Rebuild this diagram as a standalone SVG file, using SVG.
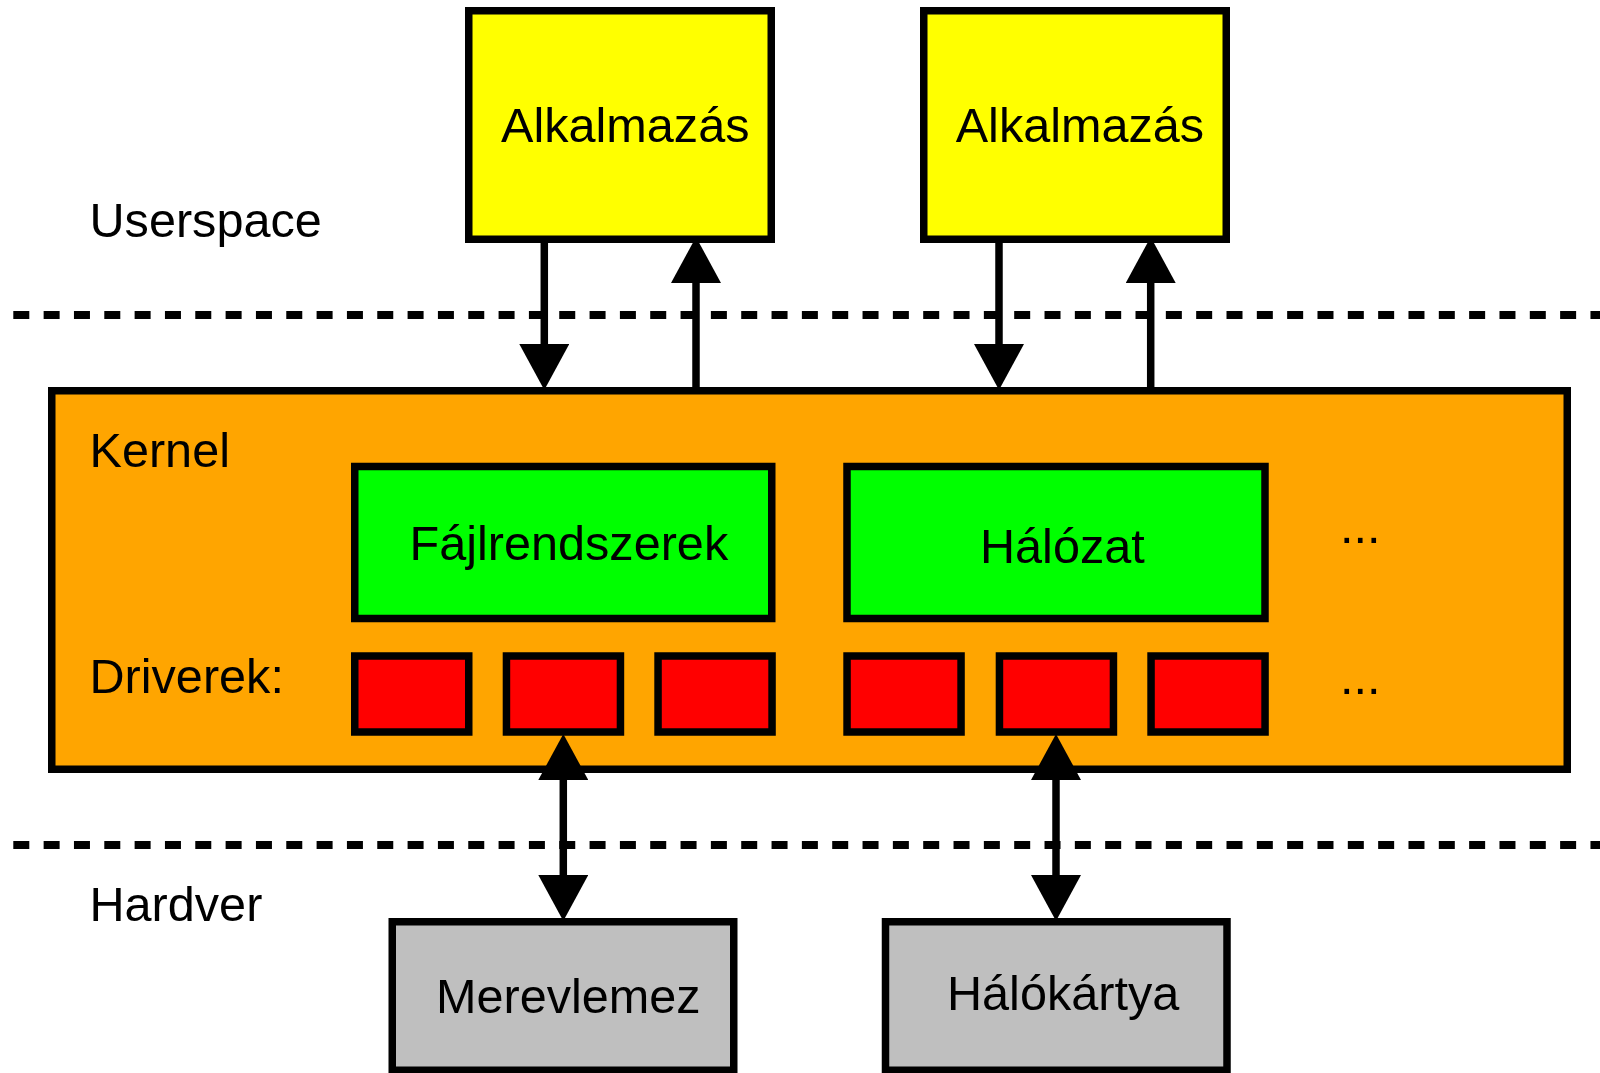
<svg xmlns="http://www.w3.org/2000/svg" width="1600" height="1073" viewBox="0 0 1600 1073">
<defs>
<marker id="ah" viewBox="0 -25 46 50" markerWidth="46" markerHeight="50" refX="0" refY="0" orient="auto-start-reverse" markerUnits="userSpaceOnUse">
<path d="M0,-25 L46,0 L0,25 Z" fill="#000"/>
</marker>
<style>
.box{stroke:#000;stroke-width:7.5}
.app{fill:#ffff00}
.kern{fill:#ffa500}
.sub{fill:#00ff00}
.drv{fill:#ff0000}
.hw{fill:#bfbfbf}
.t{font-family:"Liberation Sans",Arial,sans-serif;font-size:48.6px;fill:#000}
.sep{stroke:#000;stroke-width:8;stroke-dasharray:16 14.33;fill:none}
.conn{stroke:#000;stroke-width:7.5;fill:none}
</style>
</defs>
<rect width="1600" height="1073" fill="#fff"/>
<g id="separators">
<line class="sep" x1="13.3" y1="315" x2="1600" y2="315"/>
<line class="sep" x1="13.3" y1="845" x2="1600" y2="845"/>
</g>
<g id="labels">
<text class="t" x="89.5" y="236.7">Userspace</text>
<text class="t" x="89.5" y="921">Hardver</text>
</g>
<g id="kernel">
<rect class="box kern" x="51.75" y="390.75" width="1515.5" height="378.5"/>
<text class="t" x="89.5" y="466.7">Kernel</text>
<text class="t" x="89.5" y="693.3">Driverek:</text>
<text class="t" x="1340" y="542.5">...</text>
<text class="t" x="1340" y="694">...</text>
</g>
<g id="app1">
<rect class="box app" x="468.75" y="10.75" width="302.5" height="228.5"/>
<text class="t" x="501" y="141.7">Alkalmazás</text>
</g>
<g id="app2">
<rect class="box app" x="923.75" y="10.75" width="302.5" height="228.5"/>
<text class="t" x="955.7" y="141.7">Alkalmazás</text>
</g>
<g id="fs">
<rect class="box sub" x="354.75" y="466.5" width="417" height="152"/>
<text class="t" x="409.5" y="560">Fájlrendszerek</text>
</g>
<g id="net">
<rect class="box sub" x="847" y="466.5" width="418" height="152"/>
<text class="t" x="980" y="563.3">Hálózat</text>
</g>
<g id="drv1"><rect class="box drv" x="354.75" y="656" width="114" height="76"/></g>
<g id="drv2"><rect class="box drv" x="506.45" y="656" width="114" height="76"/></g>
<g id="drv3"><rect class="box drv" x="658.05" y="656" width="114" height="76"/></g>
<g id="drv4"><rect class="box drv" x="847.05" y="656" width="114" height="76"/></g>
<g id="drv5"><rect class="box drv" x="999.45" y="656" width="114" height="76"/></g>
<g id="drv6"><rect class="box drv" x="1151.05" y="656" width="114" height="76"/></g>
<g id="hdd">
<rect class="box hw" x="392.25" y="921.75" width="341.5" height="148.5"/>
<text class="t" x="436" y="1012.7">Merevlemez</text>
</g>
<g id="nic">
<rect class="box hw" x="885.5" y="921.75" width="341.5" height="148.5"/>
<text class="t" x="947" y="1010">Hálókártya</text>
</g>
<g id="connectors">
<line class="conn" x1="544.3" y1="243" x2="544.3" y2="344" marker-end="url(#ah)"/>
<line class="conn" x1="696" y1="387" x2="696" y2="283" marker-end="url(#ah)"/>
<line class="conn" x1="999" y1="243" x2="999" y2="344" marker-end="url(#ah)"/>
<line class="conn" x1="1150.7" y1="387" x2="1150.7" y2="283" marker-end="url(#ah)"/>
<line class="conn" x1="563.3" y1="780" x2="563.3" y2="875" marker-start="url(#ah)" marker-end="url(#ah)"/>
<line class="conn" x1="1056" y1="780" x2="1056" y2="875" marker-start="url(#ah)" marker-end="url(#ah)"/>
</g>
</svg>
